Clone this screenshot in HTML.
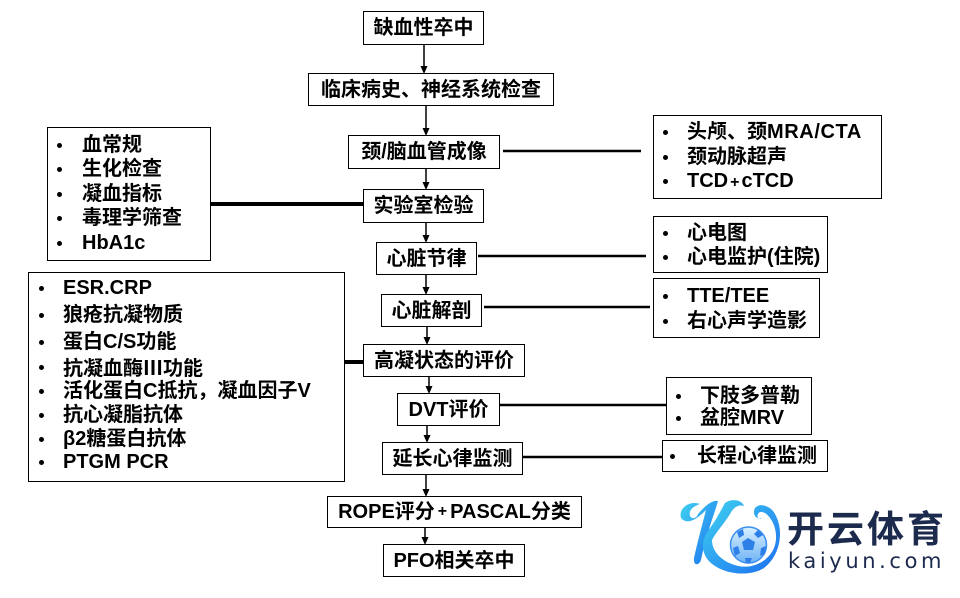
<!DOCTYPE html>
<html><head><meta charset="utf-8">
<style>
html,body{margin:0;padding:0;background:#fff;}
body{width:960px;height:598px;position:relative;overflow:hidden;font-family:"Liberation Sans","Noto Sans CJK SC",sans-serif;font-weight:bold;color:#000;}
.b{position:absolute;box-sizing:border-box;border:1.5px solid #000;background:#fff;display:flex;align-items:center;justify-content:center;font-size:20px;white-space:nowrap;line-height:1;}
.l{position:absolute;box-sizing:border-box;border:1.5px solid #000;background:#fff;}
.t{position:absolute;font-size:20px;line-height:1;white-space:nowrap;}
.d{position:absolute;width:5px;height:5px;border-radius:50%;background:#000;}
svg{position:absolute;left:0;top:0;}
.cj{font-family:"Noto Sans CJK SC",sans-serif;}
</style></head><body>
<svg width="960" height="598" viewBox="0 0 960 598">
<g stroke="#000" stroke-width="1.5" fill="none">
<line x1="424" y1="45" x2="424" y2="67"/>
<line x1="426" y1="106" x2="426" y2="129"/>
<line x1="426" y1="169" x2="426" y2="183"/>
<line x1="426" y1="223" x2="426" y2="236"/>
<line x1="426" y1="275" x2="426" y2="288"/>
<line x1="427" y1="327" x2="427" y2="338"/>
<line x1="429" y1="377" x2="429" y2="387"/>
<line x1="427" y1="426" x2="427" y2="436"/>
<line x1="426" y1="475" x2="426" y2="490"/>
<line x1="425" y1="528" x2="425" y2="538"/>
</g>
<g fill="#000">
<polygon points="420.5,66 427.5,66 424,74"/>
<polygon points="422.5,128 429.5,128 426,136"/>
<polygon points="422.5,182 429.5,182 426,190"/>
<polygon points="422.5,235 429.5,235 426,243"/>
<polygon points="422.5,287 429.5,287 426,295"/>
<polygon points="423.5,337 430.5,337 427,345"/>
<polygon points="425.5,386 432.5,386 429,394"/>
<polygon points="423.5,435 430.5,435 427,443"/>
<polygon points="422.5,489 429.5,489 426,497"/>
<polygon points="421.5,537 428.5,537 425,545"/>
</g>
<g stroke="#000" fill="none">
<line x1="503" y1="151" x2="641" y2="151" stroke-width="2.5"/>
<line x1="210" y1="204" x2="364" y2="204" stroke-width="4"/>
<line x1="478" y1="256" x2="646" y2="256" stroke-width="2.5"/>
<line x1="484" y1="307" x2="650" y2="307" stroke-width="2.5"/>
<line x1="343" y1="362" x2="364" y2="362" stroke-width="4"/>
<line x1="500" y1="405" x2="667" y2="405" stroke-width="2.5"/>
<line x1="523" y1="457" x2="662" y2="457" stroke-width="2.5"/>
</g>
<defs>
<linearGradient id="g1" x1="0" y1="0" x2="1" y2="1">
<stop offset="0" stop-color="#3fd3f0"/>
<stop offset="1" stop-color="#1d6ef0"/>
</linearGradient>
<linearGradient id="g2" x1="0" y1="0" x2="0" y2="1">
<stop offset="0" stop-color="#d8f0ff"/>
<stop offset="1" stop-color="#6fb3f5"/>
</linearGradient>
</defs>
<g>
<path d="M681,518 C678,508 690,500 700,504 C694,506 688,510 690,516 C692,520 697,518 698,514 C706,505 712,500 718,501 C714,515 706,535 701,560 C699,566 693,566 694,558 C698,540 703,522 706,510 C698,518 688,526 681,518 Z" fill="url(#g1)"/>
<path d="M725,503 C732,498 742,500 744,506 C738,504 733,508 730,514 C724,524 716,532 712,540 C712,552 722,562 738,566 C752,569 768,562 774,548 C778,538 776,526 770,518 C766,512 760,510 758,514 C756,518 760,520 762,518 C756,520 752,514 755,508 C760,502 772,506 776,516 C784,532 780,556 764,568 C748,578 720,574 708,560 C700,550 702,538 710,528 C716,520 720,512 725,503 Z" fill="url(#g1)"/>
<circle cx="748.5" cy="545" r="18" fill="url(#g2)" stroke="#3a8ef0" stroke-width="1.5"/>
<g fill="#2f7fe8">
<polygon points="748,538 755,542 753,550 744,550 742,542"/>
<polygon points="737,532 743,529 744,535 739,538"/>
<polygon points="758,530 763,535 758,538 754,534"/>
<polygon points="733,548 738,546 740,553 735,556"/>
<polygon points="761,548 766,546 765,554 760,556"/>
<polygon points="745,558 752,558 750,563 746,563"/>
</g>
</g>
</svg>

<div class="b" style="left:363px;top:11px;width:121px;height:34px;">缺血性卒中</div>
<div class="b" style="left:308px;top:73px;width:246px;height:33px;">临床病史、神经系统检查</div>
<div class="b" style="left:348px;top:135px;width:152px;height:34px;">颈/脑血管成像</div>
<div class="b" style="left:363px;top:189px;width:121px;height:34px;">实验室检验</div>
<div class="b" style="left:376px;top:242px;width:101px;height:33px;">心脏节律</div>
<div class="b" style="left:381px;top:294px;width:101px;height:33px;">心脏解剖</div>
<div class="b" style="left:363px;top:344px;width:162px;height:33px;">高凝状态的评价</div>
<div class="b" style="left:397px;top:393px;width:103px;height:33px;">DVT评价</div>
<div class="b" style="left:382px;top:442px;width:141px;height:33px;">延长心律监测</div>
<div class="b" style="left:327px;top:496px;width:255px;height:32px;">ROPE评分<span style="font-size:16px;margin:0 3px;">+</span>PASCAL分类</div>
<div class="b" style="left:383px;top:544px;width:142px;height:33px;">PFO相关卒中</div>

<!-- left box 1 -->
<div class="l" style="left:47px;top:127px;width:164px;height:134px;"></div>
<div class="d" style="left:57px;top:143px"></div><div class="t" style="left:82px;top:135px">血常规</div>
<div class="d" style="left:57px;top:167px"></div><div class="t" style="left:82px;top:159px">生化检查</div>
<div class="d" style="left:57px;top:192px"></div><div class="t" style="left:82px;top:184px">凝血指标</div>
<div class="d" style="left:57px;top:216px"></div><div class="t" style="left:82px;top:208px">毒理学筛查</div>
<div class="d" style="left:57px;top:241px"></div><div class="t" style="left:82px;top:233px">HbA1c</div>

<!-- left box 2 -->
<div class="l" style="left:28px;top:272px;width:317px;height:210px;"></div>
<div class="d" style="left:39px;top:286px"></div><div class="t" style="left:63px;top:278px">ESR.CRP</div>
<div class="d" style="left:39px;top:313px"></div><div class="t" style="left:63px;top:305px">狼疮抗凝物质</div>
<div class="d" style="left:39px;top:340px"></div><div class="t" style="left:63px;top:332px">蛋白C/S功能</div>
<div class="d" style="left:39px;top:365px"></div><div class="t" style="left:63px;top:357px">抗凝血酶<span class="cj">Ⅲ</span>功能</div>
<div class="d" style="left:39px;top:389px"></div><div class="t" style="left:63px;top:381px">活化蛋白C抵抗，凝血因子V</div>
<div class="d" style="left:39px;top:413px"></div><div class="t" style="left:63px;top:405px">抗心凝脂抗体</div>
<div class="d" style="left:39px;top:437px"></div><div class="t" style="left:63px;top:429px">β2糖蛋白抗体</div>
<div class="d" style="left:39px;top:460px"></div><div class="t" style="left:63px;top:452px">PTGM PCR</div>

<!-- right boxes -->
<div class="l" style="left:653px;top:115px;width:229px;height:84px;"></div>
<div class="d" style="left:663px;top:130px"></div><div class="t" style="left:687px;top:122px">头颅、颈<span style="letter-spacing:0.6px">MRA/CTA</span></div>
<div class="d" style="left:663px;top:155px"></div><div class="t" style="left:687px;top:147px">颈动脉超声</div>
<div class="d" style="left:663px;top:179px"></div><div class="t" style="left:687px;top:171px">TCD<span style="font-size:16px;margin:0 2px;">+</span>cTCD</div>

<div class="l" style="left:653px;top:216px;width:175px;height:57px;"></div>
<div class="d" style="left:663px;top:231px"></div><div class="t" style="left:687px;top:223px">心电图</div>
<div class="d" style="left:663px;top:255px"></div><div class="t" style="left:687px;top:247px">心电监护(住院)</div>

<div class="l" style="left:653px;top:278px;width:167px;height:60px;"></div>
<div class="d" style="left:663px;top:294px"></div><div class="t" style="left:687px;top:286px">TTE/TEE</div>
<div class="d" style="left:663px;top:319px"></div><div class="t" style="left:687px;top:311px">右心声学造影</div>

<div class="l" style="left:666px;top:377px;width:146px;height:58px;"></div>
<div class="d" style="left:676px;top:394px"></div><div class="t" style="left:700px;top:386px">下肢多普勒</div>
<div class="d" style="left:676px;top:416px"></div><div class="t" style="left:700px;top:408px">盆腔MRV</div>

<div class="l" style="left:662px;top:440px;width:166px;height:32px;"></div>
<div class="d" style="left:670px;top:454px"></div><div class="t" style="left:697px;top:446px">长程心律监测</div>

<!-- logo text -->
<div style="position:absolute;left:787px;top:508px;font-size:37px;line-height:1;color:#1c2a4e;font-weight:bold;font-family:'Noto Sans CJK SC',sans-serif;letter-spacing:3px;white-space:nowrap;">开云体育</div>
<div style="position:absolute;left:788px;top:551px;font-size:21px;line-height:1;color:#1c2a4e;font-weight:normal;font-family:'DejaVu Sans','Liberation Sans',sans-serif;letter-spacing:3.6px;white-space:nowrap;">kaiyun.com</div>
</body></html>
